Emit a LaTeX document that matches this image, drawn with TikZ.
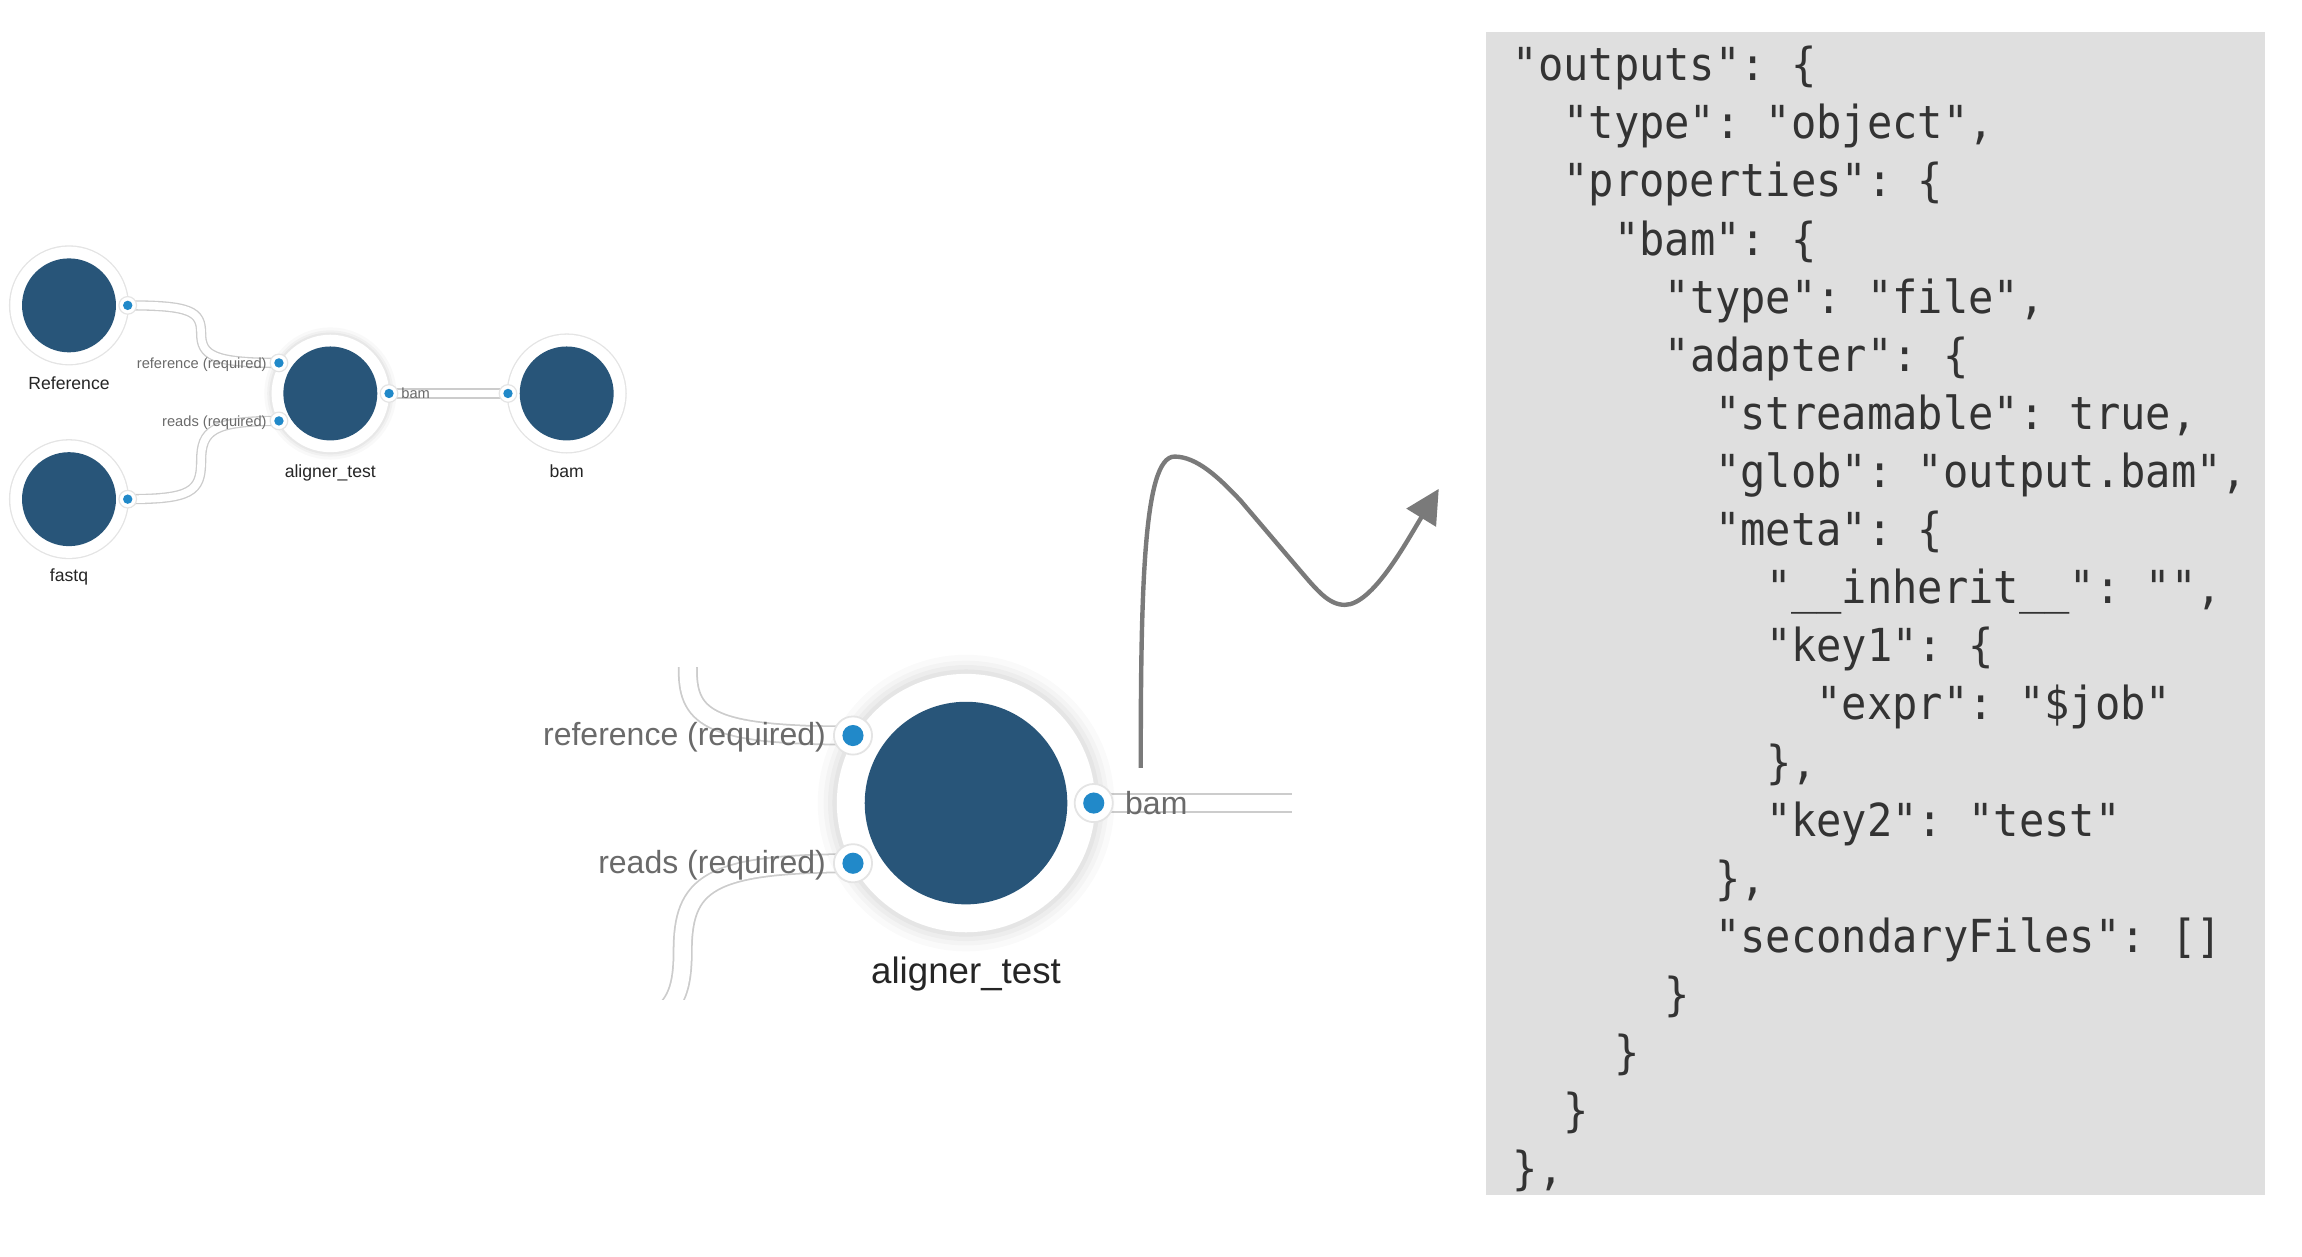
\documentclass[tikz,border=0pt]{standalone}
\usepackage{fontspec}
\setmainfont{Liberation Sans}
\newfontfamily\jsonfont[FakeStretch=0.924]{DejaVu Sans Mono}
\usetikzlibrary{arrows.meta}
\definecolor{nodeblue}{HTML}{285579}
\definecolor{portblue}{HTML}{2189C9}
\definecolor{ringgray}{HTML}{E4E4E4}
\definecolor{bandgray}{HTML}{CCCCCC}
\definecolor{labgray}{HTML}{6A6A6A}
\definecolor{labdark}{HTML}{252525}
\definecolor{panelgray}{HTML}{DFDFDF}
\definecolor{jsontext}{HTML}{333333}
\definecolor{arrowgray}{HTML}{7A7A7A}
\pgfdeclarelayer{bg}
\pgfsetlayers{bg,main}
\newcommand\jline[4]{\node[json] (#1) at ({1030+17.25*#3},{55+39.58*(#2-1)}) {#4};}
\begin{document}
\begin{tikzpicture}[x=0.5pt,y=-0.5pt,
  nodeS/.style={circle, inner sep=0pt, minimum size=32pt, fill=nodeblue,
    preaction={draw=ringgray, line width=8.9pt},
    preaction={draw=white, line width=8pt}},
  nodeSsh/.style={circle, inner sep=0pt, minimum size=32pt, fill=nodeblue,
    preaction={draw=black, draw opacity=0.025, line width=13pt},
    preaction={draw=black, draw opacity=0.03, line width=11pt},
    preaction={draw=black, draw opacity=0.04, line width=9.5pt},
    preaction={draw=white, line width=8pt}},
  nodeB/.style={circle, inner sep=0pt, minimum size=69pt, fill=nodeblue,
    preaction={draw=black, draw opacity=0.018, line width=32pt},
    preaction={draw=black, draw opacity=0.022, line width=28pt},
    preaction={draw=black, draw opacity=0.028, line width=25pt},
    preaction={draw=black, draw opacity=0.034, line width=22pt},
    preaction={draw=white, line width=19pt}},
  portS/.style={circle, inner sep=0pt, minimum size=6pt, fill=white, draw=ringgray, line width=0.4pt},
  portB/.style={circle, inner sep=0pt, minimum size=13pt, fill=white, draw=ringgray, line width=0.6pt},
  bandS/.style={draw=bandgray, line width=0.45pt, double=white, double distance=2.6pt},
  bandB/.style={draw=bandgray, line width=0.6pt, double=white, double distance=5.6pt},
  nlabS/.style={anchor=base, inner sep=0pt, text=labdark, font=\fontsize{6}{7}\selectfont},
  plabS/.style={inner sep=0pt, text=labgray, font=\fontsize{5}{6}\selectfont},
  nlabB/.style={anchor=base, inner sep=0pt, text=labdark, font=\fontsize{12.5}{14}\selectfont},
  plabB/.style={inner sep=0pt, text=labgray, font=\fontsize{10.9}{12}\selectfont},
  json/.style={anchor=base west, inner sep=0pt, text=jsontext, font=\jsonfont\fontsize{15.5}{18}\selectfont\frenchspacing},
  arrowS/.style={draw=arrowgray, line width=1.5pt, -{Triangle[length=11.5pt,width=11.5pt]}}
]
\useasboundingbox (0,0) rectangle (1568,856);

% ---------- small graph ----------
\node[nodeS] (ref) at (47,208) {};
\node[nodeS] (fq) at (47,340) {};
\node[nodeSsh] (al) at (225,268) {};
\node[nodeS] (bamn) at (386,268) {};

\node[nlabS] (lref) at (47,265) {Reference};
\node[nlabS] (lfq) at (47,396) {fastq};
\node[nlabS] (lal) at (225,325) {aligner\_test};
\node[nlabS] (lbam) at (386,325) {bam};

\node[portS] (pro) at (87,208) {};
\node[portS] (pfo) at (87,340) {};
\node[portS] (par) at (190,247.2) {};
\node[portS] (pae) at (190,286.7) {};
\node[portS] (pab) at (265,268) {};
\node[portS] (pbi) at (346,268) {};
\foreach \p in {pro,pfo,par,pae,pab,pbi} \fill[portblue] (\p) circle (1.6pt);

\node[plabS, anchor=base east] (lpar) at (182,250.7) {reference (required)};
\node[plabS, anchor=base east] (lpae) at (182,290.2) {reads (required)};
\node[plabS, anchor=base west] (lpab) at (273,271.5) {bam};

% ---------- enlarged aligner_test ----------
\node[nodeB] (alB) at (658,547) {};
\node[nlabB] (lalB) at (658,670) {aligner\_test};
\node[portB] (pBr) at (581,501) {};
\node[portB] (pBe) at (581,588) {};
\node[portB] (pBb) at (745,547) {};
\foreach \p in {pBr,pBe,pBb} \fill[portblue] (\p) circle (3.6pt);
\node[plabB, anchor=base east] (lpBr) at (563,508) {reference (required)};
\node[plabB, anchor=base east] (lpBe) at (563,595) {reads (required)};
\node[plabB, anchor=base west] (lpBb) at (766,554.5) {bam};
\coordinate (bamcut) at (880,547);

% ---------- connectors (under the nodes) ----------
\begin{pgfonlayer}{bg}
\draw[bandS] (pro.center) .. controls (130,208) and (137,212) .. (137,227)
  .. controls (137,242) and (145,247.2) .. (par.center);
\draw[bandS] (pfo.center) .. controls (130,340) and (137,335) .. (137,314)
  .. controls (137,293) and (145,286.7) .. (pae.center);
\draw[bandS] (pab.center) -- (pbi.center);
\begin{scope}
\clip (400,455) rectangle (880,681);
\draw[bandB] (358,415) .. controls (453,415) and (468.5,423.8) .. (468.5,456.8)
  .. controls (468.5,489.8) and (485,501) .. (pBr.center);
\draw[bandB] (354.4,705.4) .. controls (449,705.4) and (465,694.4) .. (465,648.2)
  .. controls (465,602) and (482,588) .. (pBe.center);
\draw[bandB] (pBb.center) -- (bamcut);
\end{scope}
\end{pgfonlayer}

% ---------- arrow ----------
\coordinate (as) at (777,523);
\coordinate (ae) at (980,333);
\draw[arrowS] (as) .. controls (777,400) and (779,311) .. (800,311)
  .. controls (815,311) and (830,325) .. (845,341) -- (885,388)
  .. controls (897,402) and (905,412) .. (916,412)
  .. controls (935,412) and (958,369) .. (ae);

% ---------- JSON panel ----------
\fill[panelgray] (1012,22) rectangle (1543,814);
\jline{j1}{1}{0}{"outputs": \{}
\jline{j2}{2}{2}{"type": "object",}
\jline{j3}{3}{2}{"properties": \{}
\jline{j4}{4}{4}{"bam": \{}
\jline{j5}{5}{6}{"type": "file",}
\jline{j6}{6}{6}{"adapter": \{}
\jline{j7}{7}{8}{"streamable": true,}
\jline{j8}{8}{8}{"glob": "output.bam",}
\jline{j9}{9}{8}{"meta": \{}
\jline{j10}{10}{10}{"\_\_inherit\_\_": "",}
\jline{j11}{11}{10}{"key1": \{}
\jline{j12}{12}{12}{"expr": "\$job"}
\jline{j13}{13}{10}{\},}
\jline{j14}{14}{10}{"key2": "test"}
\jline{j15}{15}{8}{\},}
\jline{j16}{16}{8}{"secondaryFiles": []}
\jline{j17}{17}{6}{\}}
\jline{j18}{18}{4}{\}}
\jline{j19}{19}{2}{\}}
\jline{j20}{20}{0}{\},}
\end{tikzpicture}
\end{document}
